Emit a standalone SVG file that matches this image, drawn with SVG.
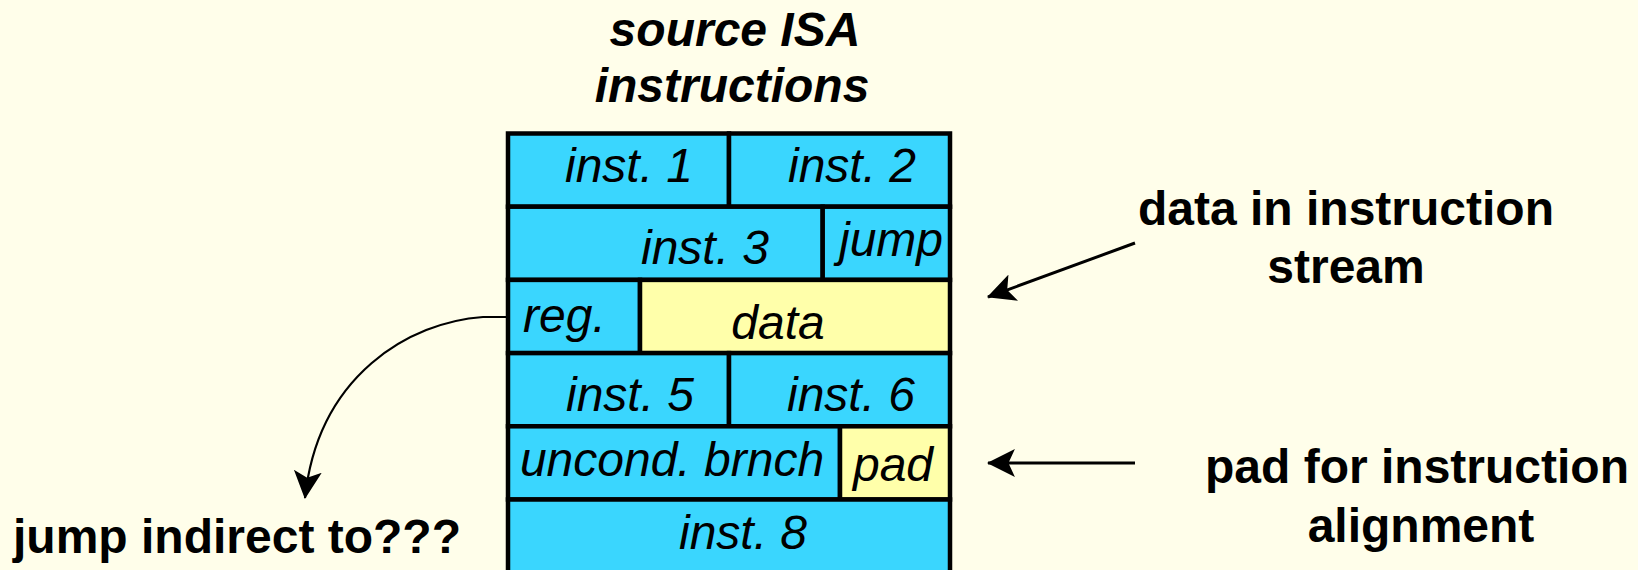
<svg xmlns="http://www.w3.org/2000/svg" width="1638" height="570" viewBox="0 0 1638 570">
  <defs>
    <marker id="arrow" markerUnits="userSpaceOnUse" markerWidth="28" markerHeight="28" viewBox="0 0 26 26" refX="25" refY="13" orient="auto">
      <path d="M26,13 L0,0 L6,13 L0,26 Z" fill="#000"/>
    </marker>
    <style>
      .bg { fill: #FFFEEA; }
      .blue { fill: #3AD6FE; stroke: #000; stroke-width: 4.5; }
      .yellow { fill: #FFFFAA; stroke: #000; stroke-width: 4.5; }
      .cell { font-family: "Liberation Sans", Arial, sans-serif; font-style: italic; font-size: 48px; fill: #000; text-anchor: middle; }
      .label { font-family: "Liberation Sans", Arial, sans-serif; font-weight: bold; font-size: 48px; fill: #000; text-anchor: middle; }
      .title { font-family: "Liberation Sans", Arial, sans-serif; font-weight: bold; font-style: italic; font-size: 48px; fill: #000; text-anchor: middle; }
      .conn { fill: none; stroke: #000; stroke-width: 3; }
      .conn-thin { fill: none; stroke: #000; stroke-width: 2.2; }
    </style>
  </defs>
  <rect class="bg" x="0" y="0" width="1638" height="570"/>

  <g id="title">
    <text class="title" x="735" y="46">source ISA</text>
    <text class="title" x="732" y="102">instructions</text>
  </g>

  <g id="inst1"><rect class="blue" x="508" y="133.5" width="221" height="73.2"/><text class="cell" x="629" y="182">inst. 1</text></g>
  <g id="inst2"><rect class="blue" x="729" y="133.5" width="221" height="73.2"/><text class="cell" x="852" y="182">inst. 2</text></g>
  <g id="inst3"><rect class="blue" x="508" y="206.7" width="314.7" height="73.2"/><text class="cell" x="705" y="264">inst. 3</text></g>
  <g id="jump"><rect class="blue" x="822.7" y="206.7" width="127.3" height="73.2"/><text class="cell" x="891" y="256">jump</text></g>
  <g id="reg"><rect class="blue" x="508" y="279.9" width="132" height="73.2"/><text class="cell" x="523" y="332" style="text-anchor:start">reg.</text></g>
  <g id="data"><rect class="yellow" x="640" y="279.9" width="310" height="73.2"/><text class="cell" x="778" y="339">data</text></g>
  <g id="inst5"><rect class="blue" x="508" y="353.1" width="221" height="73.2"/><text class="cell" x="630" y="411">inst. 5</text></g>
  <g id="inst6"><rect class="blue" x="729" y="353.1" width="221" height="73.2"/><text class="cell" x="851" y="411">inst. 6</text></g>
  <g id="uncond"><rect class="blue" x="508" y="426.3" width="332" height="73.2"/><text class="cell" x="672" y="476">uncond. brnch</text></g>
  <g id="pad"><rect class="yellow" x="840" y="426.3" width="110" height="73.2"/><text class="cell" x="893" y="481">pad</text></g>
  <g id="inst8"><rect class="blue" x="508" y="499.5" width="442" height="80"/><text class="cell" x="743" y="549">inst. 8</text></g>

  <g id="label-data">
    <text class="label" x="1346" y="225">data in instruction</text>
    <text class="label" x="1346" y="283">stream</text>
  </g>
  <g id="label-pad">
    <text class="label" x="1417" y="483">pad for instruction</text>
    <text class="label" x="1421" y="542">alignment</text>
  </g>
  <g id="label-jump">
    <text class="label" x="13" y="553" style="text-anchor:start">jump indirect to???</text>
  </g>

  <g id="connectors">
    <path class="conn" d="M1135,243 L988,297" marker-end="url(#arrow)"/>
    <path class="conn" d="M1135,463 L988,463" marker-end="url(#arrow)"/>
    <path class="conn-thin" d="M506,317 L483,317 C410,322 318,375 305,498" marker-end="url(#arrow)"/>
  </g>
</svg>
